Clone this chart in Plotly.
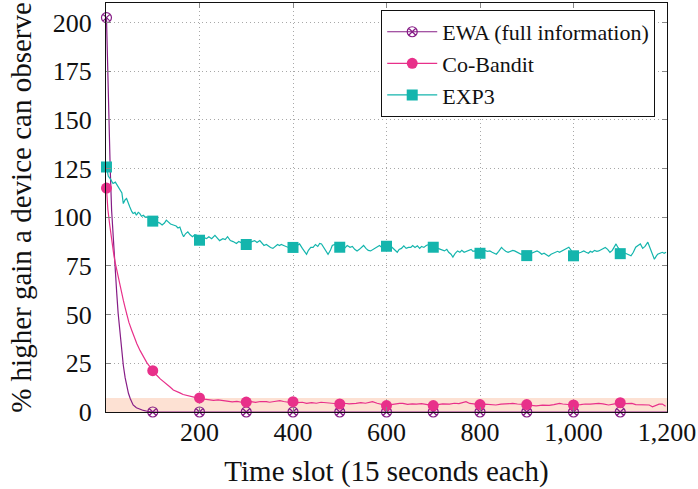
import plotly.graph_objects as go

# ---------------- data ----------------
MARK_T = [1, 100, 200, 300, 400, 500, 600, 700, 800, 900, 1000, 1100]

ewa_t = [1, 3, 5, 7, 9, 12, 16, 19, 23, 26, 30, 34, 37, 41, 45, 48, 52, 58, 65, 73, 80, 88,
         100, 200, 300, 400, 500, 600, 700, 800, 900, 1000, 1100, 1200]
ewa_v = [202.5, 180, 160, 142, 125, 103.6, 86.5, 72.8, 60.9, 50.6, 40.4, 30.5, 24, 17.5, 12.5, 9.6, 6.8, 3.6, 2.2, 1.3, 0.8, 0.4,
         0, 0, 0, 0, 0, 0, 0, 0, 0, 0, 0, 0]

cob_t = [1, 4, 8, 12, 16, 19, 23, 27, 30, 34, 37, 41, 44, 49, 55, 60, 66, 73, 80, 87, 94, 100,
         108, 116, 124, 130, 137, 144, 150, 158, 165, 172, 180, 188, 195, 200, 210, 220, 230, 240,
         251, 260, 270, 280, 290, 300, 310, 320, 330, 343, 350, 360, 372, 380, 390, 400, 410, 420,
         429, 440, 450, 460, 471, 480, 490, 500, 510, 520, 535, 545, 555, 570, 580, 590, 600, 610,
         620, 628, 635, 645, 655, 664, 675, 685, 692, 700, 710, 720, 735, 745, 755, 763, 770, 778,
         790, 800, 810, 820, 834, 845, 855, 870, 880, 890, 900, 910, 920, 934, 948, 958, 970, 977,
         990, 1000, 1015, 1025, 1036, 1045, 1054, 1063, 1075, 1088, 1100, 1110, 1125, 1133, 1147,
         1162, 1169, 1176, 1183, 1190, 1197]
cob_v = [115, 104, 96, 88, 82, 77.5, 72.8, 68, 64.3, 60.5, 57.4, 53.5, 50.6, 46, 42, 38.5, 35, 31.5, 28.4, 25.5, 23.2, 21.2,
         19, 17, 15.5, 14.5, 12.8, 11.3, 10.5, 9.8, 9, 8.5, 8, 7.6, 7.3, 7.2, 6.6, 6.3, 6, 6.2,
         5.8, 5.6, 5.2, 5.5, 5, 5.1, 5.3, 4.9, 5.4, 5.3, 5, 5.4, 5.8, 5.4, 5, 5.3, 4.8, 5,
         4.4, 4.8, 4.5, 5, 4.8, 4.6, 4.2, 4.1, 4.5, 4.2, 4.4, 4.8, 4.5, 5.3, 4.5, 4, 3.3, 3.8,
         4.2, 4.4, 4.4, 3.9, 4.2, 4, 4.3, 3.8, 3.5, 3.3, 3.8, 4.2, 4, 4.5, 4.3, 4.8, 5.3, 4.4,
         4, 3.8, 4, 3.8, 3.6, 4, 4.3, 4.4, 4.1, 4.1, 3.8, 3.4, 3.1, 3.5, 3.4, 3.8, 4.4, 4.1,
         3.8, 3.6, 3.8, 4.1, 4, 4.3, 4.4, 4.2, 3.6, 4.2, 4.8, 4.3, 4.4, 3.8, 3.6,
         3.6, 2.7, 3.5, 4, 4.1, 3]

exp3_t = [1, 5, 9, 15, 20, 26, 30, 34, 37, 41, 44, 48, 51, 55, 58, 62, 65, 69, 72, 76, 80, 84, 87, 92, 96,
          100, 105, 110, 115, 120, 125, 129, 133, 138, 144, 150, 154, 158, 163, 166, 170, 175, 180, 185, 190, 194,
          200, 206, 210, 215, 220, 226, 233, 238, 243, 250, 255, 260, 266, 272, 279, 284, 288, 293,
          300, 306, 312, 318, 323, 329, 334, 338, 343, 348, 352, 357, 362, 367, 371, 375, 380, 385, 390, 395,
          400, 405, 410, 414, 420, 425, 429, 433, 438, 443, 448, 453, 457, 461, 466, 471, 475, 480, 484, 489, 494,
          500, 505, 510, 516, 522, 527, 532, 537, 542, 546, 551, 556, 561, 566, 571, 576, 580, 585, 590, 595,
          600, 605, 610, 615, 619, 623, 627, 632, 637, 642, 647, 652, 656, 661, 666, 671, 675, 680, 685, 690, 694,
          700, 705, 710, 715, 720, 724, 729, 733, 738, 742, 747, 752, 757, 761, 766, 771, 776, 781, 785, 788, 794,
          800, 805, 810, 816, 821, 826, 830, 835, 840, 846, 850, 855, 860, 865, 870, 874, 879, 884, 888, 893,
          900, 905, 910, 915, 922, 927, 932, 937, 942, 947, 952, 956, 961, 966, 970, 975, 980, 985, 990, 995,
          1000, 1005, 1010, 1016, 1022, 1027, 1032, 1036, 1040, 1045, 1050, 1054, 1059, 1064, 1068, 1073, 1078,
          1083, 1087, 1091, 1095, 1098,
          1100, 1106, 1111, 1116, 1120, 1123, 1128, 1133, 1138, 1143, 1148, 1153, 1159, 1164, 1169, 1173, 1177,
          1180, 1185, 1190, 1194, 1198]
exp3_v = [125.8, 121, 119.8, 117.3, 118, 115.5, 114.5, 112.5, 107, 109, 109.6, 106.5, 105.3, 103, 101.9, 102.5, 101, 102.5, 102, 100.5, 101, 100, 100.2, 99.5, 99,
          98, 98.5, 97.5, 97, 96, 97, 98.5, 97.6, 96.5, 96, 95.5, 94.5, 95, 91.5, 90, 91.5, 92.5, 91, 90, 91, 90.7,
          88.2, 88.5, 89.5, 89, 90, 89, 90.7, 89.5, 88, 89, 88.5, 90, 88, 87.5, 86.5, 87.5, 87, 88,
          86, 86.5, 87.5, 88, 87, 88, 86.5, 85.5, 86, 85, 84.5, 84, 85, 86, 85.5, 86, 85.5, 85, 84.5, 85.5,
          84.5, 85, 85.5, 86.3, 84, 82.5, 81, 83, 84.5, 84.5, 86, 85, 86.5, 86.3, 84.5, 83, 81, 83, 85.5, 86, 85,
          84.6, 85.5, 84, 85.5, 84.6, 85, 83.5, 82.7, 83.5, 84.5, 85.5, 84, 83, 82.7, 83.5, 84, 84.5, 85.5, 84.5, 85.5,
          85.1, 84.5, 85, 84, 83, 82, 83.5, 84, 85.3, 84, 84.5, 84.5, 85.5, 84.5, 85.3, 84, 85, 84.5, 85.5, 86, 86.3,
          84.6, 85, 84, 83.5, 83, 82.7, 83.5, 82, 81, 79.5, 81.5, 82.7, 82, 83, 82, 82.5, 83, 83.5, 82.5, 82.7, 82,
          81.5, 82, 83, 82.5, 82.7, 82, 81.5, 81, 82.5, 84.5, 83.5, 82.5, 82, 82.5, 83, 82.7, 82, 81.5, 81, 81.5,
          80.3, 81, 81.5, 82, 82.7, 82, 81, 81.5, 80.5, 80, 81, 81.5, 82, 82.5, 82, 82.7, 83.5, 84, 84.6, 83,
          80.2, 80.5, 81.5, 82, 82.7, 82, 81.5, 82.5, 82, 83, 82.5, 82.7, 83.5, 84, 84.5, 83.5, 82,
          83, 84.5, 86.3, 84.5, 83.5,
          81.3, 82, 81.5, 81, 80.5, 80.2, 82, 84.6, 85.5, 86.3, 84, 85, 87.2, 84, 80.5, 78.4, 80,
          81, 81.5, 82, 81.5, 82]

BAND = [0, 7.2]  # highlighted region on the y axis

X_TICKS = [200, 400, 600, 800, 1000, 1200]
X_TICKTEXT = ["200", "400", "600", "800", "1,000", "1,200"]
Y_TICKS = [0, 25, 50, 75, 100, 125, 150, 175, 200]

SERIES = [
    ("EWA (full information)", ewa_t, ewa_v, "#861c86", "circle-x-open", 10),
    ("Co-Bandit", cob_t, cob_v, "#e8308a", "circle", 11),
    ("EXP3", exp3_t, exp3_v, "#14b5ad", "square", 11),
]

FONT = '"Liberation Serif", "DejaVu Serif", "Times New Roman", serif'

fig = go.Figure()
for name, t, v, color, sym, ms in SERIES:
    sizes = [ms if ti in MARK_T else 0 for ti in t]
    open_sym = sym.endswith("open")
    mline = dict(color=color, width=1.2 if open_sym else 0)
    fig.add_trace(go.Scatter(
        x=t, y=v, name=name, mode="lines+markers", showlegend=False, legendgroup=name,
        line=dict(color=color, width=1.2),
        marker=dict(symbol=sym, size=sizes, color=color, line=mline, opacity=1),
        cliponaxis=False, hoverinfo="skip",
    ))
    # legend entry (line + marker sample)
    fig.add_trace(go.Scatter(
        x=[None], y=[None], name=name, mode="lines+markers", showlegend=True, legendgroup=name,
        line=dict(color=color, width=1.2),
        marker=dict(symbol=sym, size=ms, color=color, line=mline, opacity=1),
    ))

fig.add_shape(type="rect", xref="x", yref="y", x0=0, x1=1200, y0=BAND[0], y1=BAND[1],
              fillcolor="#fde1d3", line_width=0, layer="below")

fig.update_layout(
    width=698, height=489,
    margin=dict(l=106, r=31, t=3, b=77, autoexpand=False),
    paper_bgcolor="white", plot_bgcolor="white",
    font=dict(family=FONT, color="#111", size=26),
    showlegend=True,
    legend=dict(
        x=0.979, y=0.983, xanchor="right", yanchor="top",
        bordercolor="#111", borderwidth=1, bgcolor="white",
        font=dict(family=FONT, size=22, color="#111"),
        itemwidth=50, tracegroupgap=0,
    ),
    xaxis=dict(
        range=[0, 1200], tickvals=X_TICKS, ticktext=X_TICKTEXT,
        showline=True, linecolor="#111", linewidth=1, mirror="ticks",
        ticks="inside", ticklen=5, tickcolor="#888", tickwidth=1,
        showgrid=True, gridcolor="#a8a8a8", gridwidth=1, griddash="1px,3px",
        zeroline=False, ticklabelstandoff=-3, automargin=False,
        tickfont=dict(family=FONT, size=26),
        title=dict(text="Time slot (15 seconds each)", font=dict(family=FONT, size=29), standoff=14),
    ),
    yaxis=dict(
        range=[0, 210], tickvals=Y_TICKS,
        showline=True, linecolor="#111", linewidth=1, mirror="ticks",
        ticks="inside", ticklen=5, tickcolor="#888", tickwidth=1,
        showgrid=True, gridcolor="#a8a8a8", gridwidth=1, griddash="1px,3px",
        zeroline=False, ticklabelstandoff=8, automargin=False,
        tickfont=dict(family=FONT, size=26),
        title=dict(text="% higher gain a device can observe", font=dict(family=FONT, size=29), standoff=12),
    ),
)

fig.write_html("out.html", config={"displayModeBar": False},
               post_script="document.body.style.margin='0';")
